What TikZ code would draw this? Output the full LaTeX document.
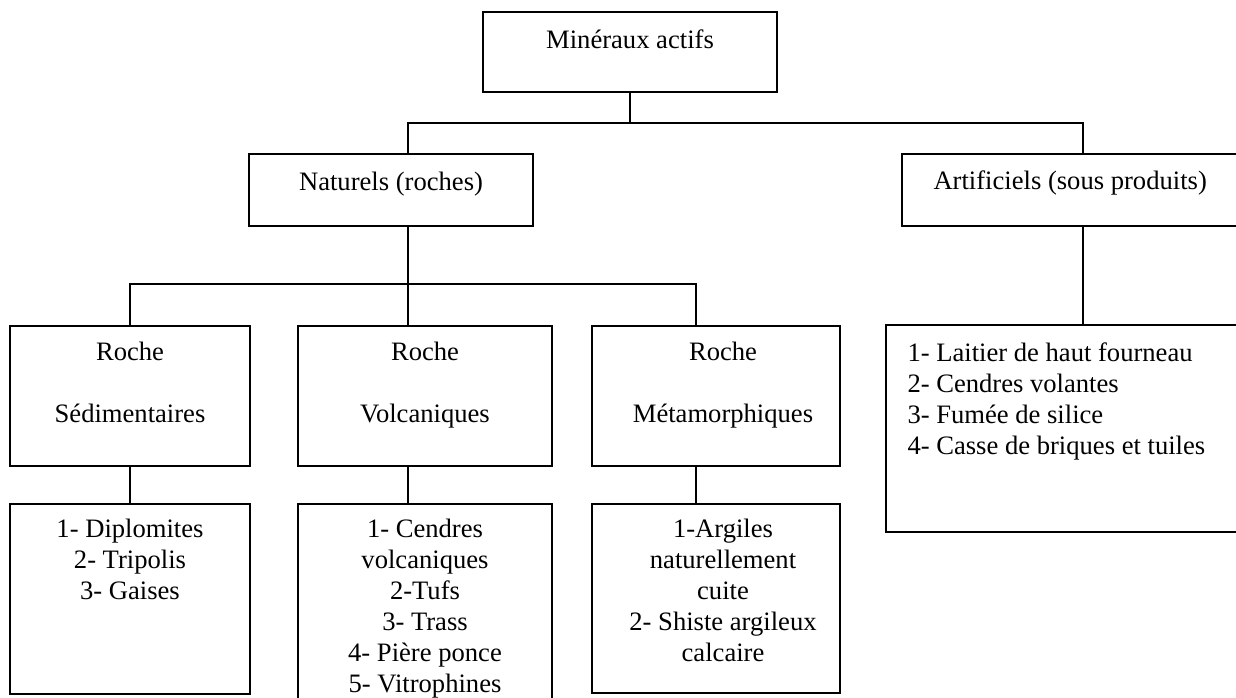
\documentclass[tikz,border=0pt]{standalone}
\usepackage{fontspec}
\setmainfont{Liberation Serif}
\usetikzlibrary{positioning, fit, calc}
\tikzset{
  boite/.style={draw, line width=0.9pt, inner sep=0pt},
  texte/.style={font=\fontsize{13.3}{15.5}\selectfont, align=center, inner sep=0pt},
  lien/.style={line width=0.8pt}
}

\begin{document}
\begin{tikzpicture}[x=0.5pt, y=-0.5pt]
\useasboundingbox (0,0) rectangle (1236,697);
\clip (0,0) rectangle (1236,697);
% niveau 1
\node[boite, fit={(483,12) (777,92)}] (top) {};
\node[texte, below=9pt of top.north] (ttop) {Minéraux actifs};
% niveau 2
\node[boite, fit={(249,154) (533,226)}] (nat) {};
\node[texte, below=9.5pt of nat.north] (tnat) {Naturels (roches)};
\node[boite, fit={(902,154) (1264,226)}] (art) {};
\node[texte, anchor=north west, below right=8.5pt and 16pt of art.north west] (tart) {Artificiels (sous produits)};
% niveau 3
\node[boite, fit={(10,326) (250,466)}] (sed) {};
\node[texte, below=8.5pt of sed.north] (tsed) {Roche\\[\baselineskip]Sédimentaires};
\node[boite, fit={(298,326) (552,466)}] (volc) {};
\node[texte, below=8.5pt of volc.north] (tvolc) {Roche\\[\baselineskip]Volcaniques};
\node[boite, fit={(592,326) (840,466)}] (met) {};
\node[texte, below=8.5pt of met.north, xshift=3.5pt] (tmet) {Roche\\[\baselineskip]Métamorphiques};
% listes
\node[boite, fit={(10,504) (250,694)}] (sedlist) {};
\node[texte, below=8pt of sedlist.north] (tsedlist) {1- Diplomites\\2- Tripolis\\3- Gaises};
\node[boite, fit={(298,504) (552,720)}] (volclist) {};
\node[texte, below=8pt of volclist.north] (tvolclist) {1- Cendres\\volcaniques\\2-Tufs\\3- Trass\\4- Pière ponce\\5- Vitrophines};
\node[boite, fit={(592,504) (840,693)}] (metlist) {};
\node[texte, below=8pt of metlist.north, xshift=3.5pt] (tmetlist) {1-Argiles\\naturellement\\cuite\\2- Shiste argileux\\calcaire};
\node[boite, fit={(886,325) (1280,532)}] (artlist) {};
\node[texte, align=left, below right=9pt and 11pt of artlist.north west] (tartlist)
  {1- Laitier de haut fourneau\\2- Cendres volantes\\3- Fumée de silice\\4- Casse de briques et tuiles};
% liaisons
\coordinate (c1) at (408,123);
\coordinate (c2) at (408,284);
\coordinate (c3) at (696,284);
\draw[lien] (top.south) -- (top.south |- c1);
\draw[lien] (c1 |- nat.north) |- (art.north |- c1) -- (art.north);
\draw[lien] (art.south) -- (artlist.north);
\draw[lien] (c2 |- nat.south) -- (c2);
\draw[lien] (sed.north) |- (c3) -- (c3 |- met.north);
\draw[lien] (c2) -- (c2 |- volc.north);
\draw[lien] (sed.south) -- (sedlist.north);
\draw[lien] (c2 |- volc.south) -- (c2 |- volclist.north);
\draw[lien] (c3 |- met.south) -- (c3 |- metlist.north);
\end{tikzpicture}
\end{document}
